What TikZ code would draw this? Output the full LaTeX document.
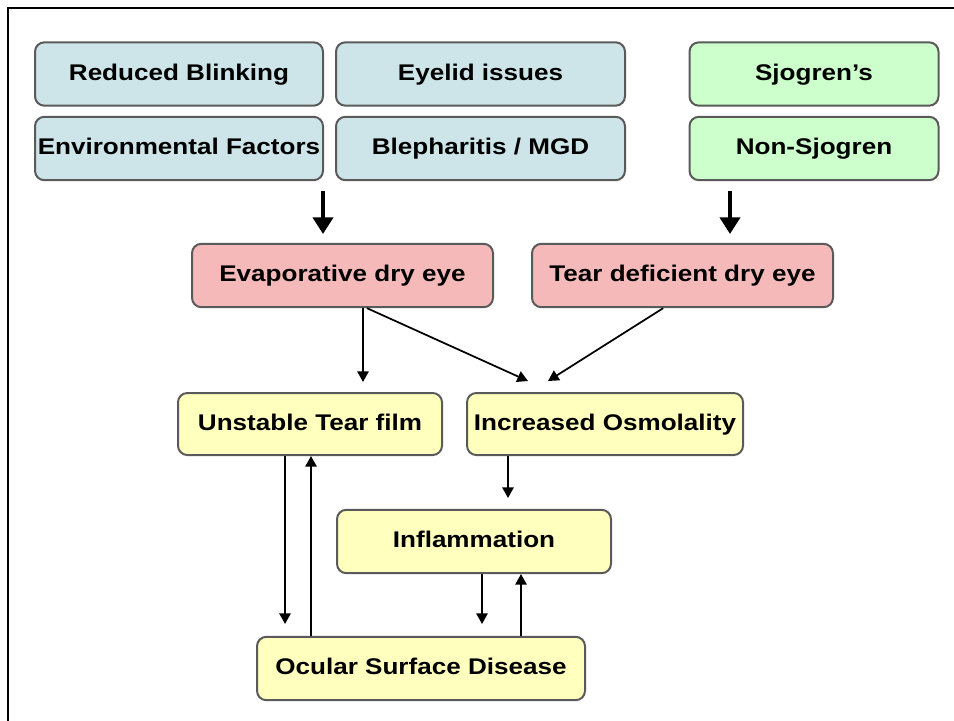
\documentclass[tikz,border=0pt]{standalone}
\usepackage{fontspec}
\setmainfont{Liberation Sans}[FakeStretch=1.15]
\usetikzlibrary{arrows.meta}
\definecolor{bluefill}{RGB}{205,228,232}
\definecolor{greenfill}{RGB}{204,255,204}
\definecolor{pinkfill}{RGB}{245,185,185}
\definecolor{yellowfill}{RGB}{255,255,190}
\definecolor{edgegray}{RGB}{90,90,90}
\tikzset{
  boxstyle/.style={draw=edgegray, line width=1.5pt, rounded corners=7pt, inner sep=0pt,
    font=\fontsize{17pt}{20pt}\selectfont\bfseries, text=black, minimum height=47.5pt,
    text height=12.5pt, text depth=3.5pt},
  bluebox/.style={boxstyle, fill=bluefill},
  greenbox/.style={boxstyle, fill=greenfill},
  pinkbox/.style={boxstyle, fill=pinkfill},
  yellowbox/.style={boxstyle, fill=yellowfill},
  thinarrow/.style={draw=black, line width=1.3pt, -{Triangle[width=8.5pt,length=8pt]}},
  thickarrow/.style={draw=black, line width=3pt, -{Triangle[width=15pt,length=12.5pt]}},
  framestyle/.style={draw=black, line width=2pt}
}
\begin{document}
\begin{tikzpicture}[x=0.75pt,y=-0.75pt]
\useasboundingbox (0,0) rectangle (954,721);
% frame (left and top edges only)
\coordinate (fbl) at (8,721);
\coordinate (ftl) at (8,8);
\coordinate (ftr) at (954,8);
\draw[framestyle] (fbl) -- (ftl) -- (ftr);

% top row
\node[bluebox, minimum width=216pt] (rb) at (179,74) {Reduced Blinking};
\node[bluebox, minimum width=216.75pt] (ei) at (480.5,74) {Eyelid issues};
\node[greenbox, minimum width=186.75pt] (sj) at (814,74) {Sjogren’s};
\node[bluebox, minimum width=216pt] (ef) at (179,148.5) {Environmental Factors};
\node[bluebox, minimum width=216.75pt] (bm) at (480.5,148.5) {Blepharitis / MGD};
\node[greenbox, minimum width=186.75pt] (ns) at (814,148.5) {Non-Sjogren};

% middle
\node[pinkbox, minimum width=225.75pt] (ev) at (342.5,275.5) {Evaporative dry eye};
\node[pinkbox, minimum width=225.75pt] (td) at (682.5,275.5) {Tear deficient dry eye};

\node[yellowbox, minimum width=198pt, minimum height=46.5pt] (ut) at (310,424) {Unstable Tear film};
\node[yellowbox, minimum width=207pt, minimum height=46.5pt] (io) at (605,424) {Increased Osmolality};
\node[yellowbox, minimum width=205.5pt] (in) at (474,541.5) {Inflammation};
\node[yellowbox, minimum width=246pt] (os) at (421,668.5) {Ocular Surface Disease};

% thick arrows
\coordinate (l1) at (323,191);
\coordinate (l2) at (323,234);
\coordinate (r1) at (730,191);
\coordinate (r2) at (730,234);
\draw[thickarrow] (l1) -- (l2);
\draw[thickarrow] (r1) -- (r2);

% thin arrows
\coordinate (utin) at (363,382);
\coordinate (ioin1) at (528,381);
\coordinate (ioin2) at (548,381);
\draw[thinarrow] (ev.south -| utin) -- (utin);
\draw[thinarrow] ([xshift=3pt]ev.south -| utin) -- (ioin1);
\draw[thinarrow] ([xshift=-14.5pt]td.south) -- (ioin2);

\coordinate (utd) at (285,624);
\coordinate (osu) at (311,456);
\draw[thinarrow] (ut.south -| utd) -- (utd);
\draw[thinarrow] (os.north -| osu) -- (osu);

\coordinate (iod) at (508,498);
\draw[thinarrow] (io.south -| iod) -- (iod);

\coordinate (ind) at (482,624);
\coordinate (osi) at (521,574);
\draw[thinarrow] (in.south -| ind) -- (ind);
\draw[thinarrow] (os.north -| osi) -- (osi);
\end{tikzpicture}
\end{document}
